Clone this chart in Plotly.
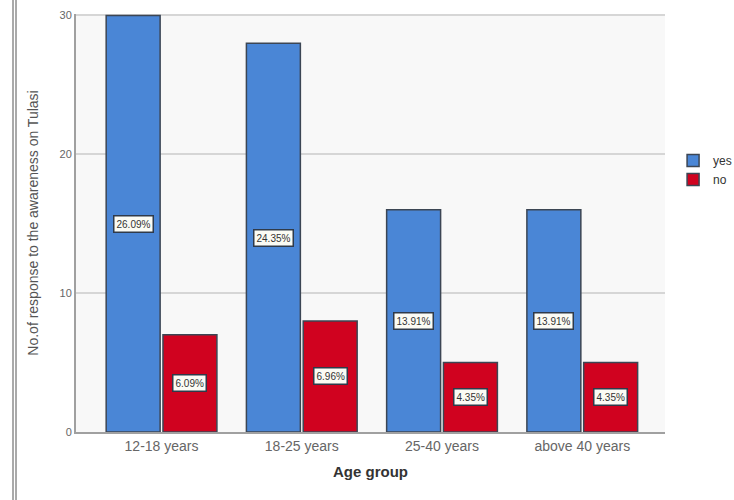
import plotly.graph_objects as go

# Survey counts by age group
age_groups = ["12-18 years", "18-25 years", "25-40 years", "above 40 years"]
yes_counts = [30, 28, 16, 16]
no_counts = [7, 8, 5, 5]
yes_pct = ["26.09%", "24.35%", "13.91%", "13.91%"]
no_pct = ["6.09%", "6.96%", "4.35%", "4.35%"]

blue = "#4a86d6"
red = "#d0021f"
edge = "#3c4654"

fig = go.Figure()
fig.add_trace(go.Bar(
    name="yes", x=age_groups, y=yes_counts,
    marker=dict(color=blue, line=dict(color=edge, width=1.5)),
    offsetgroup="yes",
))
fig.add_trace(go.Bar(
    name="no", x=age_groups, y=no_counts,
    marker=dict(color=red, line=dict(color=edge, width=1.5)),
    offsetgroup="no",
))

# Percentage boxes at the middle of each bar
bargap, groupgap = 0.19, 0.05
half = (1 - bargap) / 2
for i, cat in enumerate(age_groups):
    for vals, pcts, shift in ((yes_counts, yes_pct, -half / 2), (no_counts, no_pct, half / 2)):
        fig.add_annotation(
            x=i + shift, y=vals[i] / 2, xref="x", yref="y",
            text=pcts[i], showarrow=False,
            font=dict(family="Liberation Sans", size=10, color="#333333"),
            bgcolor="#fbfbf4", bordercolor="#2f3a4a", borderwidth=1.5, borderpad=2,
        )

# Thin double frame line on the left edge
for xp in (13, 16):
    fig.add_shape(type="line", xref="paper", yref="paper",
                  x0=(xp - 76) / 589, x1=(xp - 76) / 589, y0=-0.17, y1=1.04,
                  line=dict(color="#555555", width=1))

fig.update_layout(
    width=734, height=500,
    margin=dict(l=76, r=69, t=14, b=68, autoexpand=False),
    paper_bgcolor="white", plot_bgcolor="#f8f8f8",
    barmode="group", bargap=bargap, bargroupgap=groupgap,
    font=dict(family="Liberation Sans", color="#555555"),
    showlegend=True,
    legend=dict(xref="container", yref="container", x=0.917, y=0.66,
                xanchor="left", yanchor="middle",
                font=dict(size=12, color="#333333"), itemwidth=30,
                bgcolor="rgba(0,0,0,0)", tracegroupgap=0),
    xaxis=dict(
        range=[-0.61, 3.59], showline=True, linecolor="#a0a0a0", linewidth=2,
        ticks="", tickfont=dict(size=14, color="#666666"),
        title=dict(text="<b>Age group</b>", font=dict(size=15, color="#333333"), standoff=14),
    ),
    yaxis=dict(
        range=[0, 30.1], tickvals=[0, 10, 20, 30], showline=True, linecolor="#a0a0a0", linewidth=2,
        gridcolor="#d6d6d6", gridwidth=1.5, zeroline=False,
        tickfont=dict(size=11, color="#666666"), ticks="",
        title=dict(text="No.of response to the awareness on Tulasi",
                   font=dict(size=14, color="#555555"), standoff=18),
    ),
)

fig.write_html("out.html")
